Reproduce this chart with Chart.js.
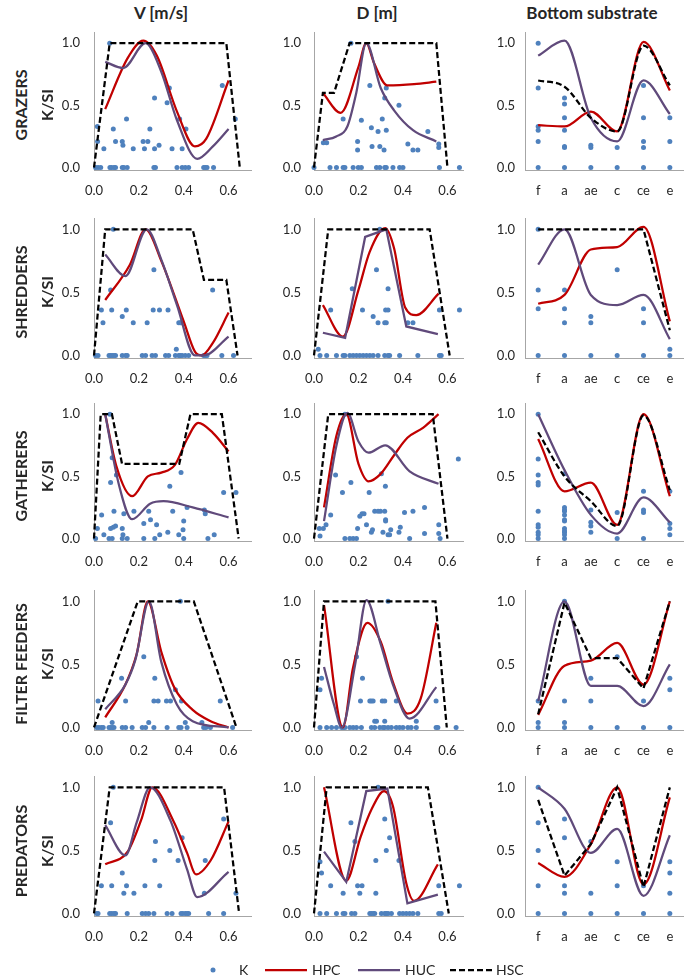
<!DOCTYPE html>
<html lang="en">
<head>
<meta charset="utf-8">
<title>K/SI habitat curves</title>
<script src="https://cdn.jsdelivr.net/npm/chart.js@4.4.1/dist/chart.umd.min.js"></script>
<style>
    html, body { margin: 0; padding: 0; background: #fff; }
    #page { position: relative; width: 685px; height: 978px; overflow: hidden; font-family: Lato, 'Open Sans', sans-serif; color: #262626; }
    #page canvas { position: absolute; }
    .colTitle { position: absolute; top: 2px; font-size: 17px; font-weight: bold; white-space: nowrap; transform: translateX(-50%); }
    .rowTitle { position: absolute; font-size: 16px; font-weight: bold; white-space: nowrap; transform: translate(-50%, -50%) rotate(-90deg); }
    .legendText { position: absolute; font-size: 14px; line-height: 16px; top: 962px; }
    #legendMarks { position: absolute; left: 0; top: 0; }
</style>
</head>
<body>
<div id="page"></div>
<script>
// labels
const columns = ['V [m/s]', 'D [m]', 'Bottom substrate'];
const groups = ['GRAZERS', 'SHREDDERS', 'GATHERERS', 'FILTER FEEDERS', 'PREDATORS'];
const substrate = ['f', 'a', 'ae', 'c', 'ce', 'e'];
const series = ['K', 'HPC', 'HUC', 'HSC'];
const yLabel = 'K/SI';
const xTicks = [0, 0.2, 0.4, 0.6];
const yTicks = [0, 0.5, 1.0];

//---------------- GRAZERS ----------------
const grazersV_K = [[0.07,1.0],[0.015,0.33],[0.016,0.21],[0.044,0.15],[0.086,0.31],[0.096,0.21],[0.126,0.21],[0.129,0.18],[0.145,0.39],[0.175,0.15],[0.219,0.21],[0.24,0.21],[0.225,0.15],[0.249,0.31],[0.27,0.56],[0.27,0.15],[0.29,0.18],[0.326,0.52],[0.336,0.64],[0.348,0.15],[0.382,0.39],[0.393,0.15],[0.41,0.31],[0.572,0.66],[0.63,0.39],
    [0.007,0],[0.018,0],[0.03,0],[0.071,0],[0.078,0],[0.089,0],[0.096,0],[0.126,0],[0.133,0],[0.148,0],[0.267,0],[0.274,0],[0.37,0],[0.393,0],[0.407,0],[0.422,0],[0.489,0],[0.496,0],[0.504,0],[0.533,0]];
const grazersV_HPC = [[0.05,0.47],[0.15,0.88],[0.22,1.02],[0.28,0.9],[0.37,0.45],[0.45,0.17],[0.5,0.23],[0.6,0.7]];
const grazersV_HUC = [[0.05,0.85],[0.13,0.8],[0.23,1.0],[0.3,0.77],[0.37,0.38],[0.46,0.07],[0.53,0.17],[0.6,0.31]];
const grazersV_HSC = [[0,0],[0.07,1],[0.59,1],[0.65,0]];

const grazersD_K = [[0.166,1.0],[0.042,0.2],[0.057,0.2],[0.131,0.39],[0.196,0.21],[0.196,0.14],[0.213,0.38],[0.251,0.66],[0.258,0.32],[0.261,0.17],[0.288,0.29],[0.296,0.17],[0.307,0.39],[0.315,0.14],[0.318,0.56],[0.325,0.64],[0.325,0.3],[0.382,0.5],[0.422,0.19],[0.445,0.14],[0.467,0.14],[0.512,0.29],[0.561,0.19],[0.561,0.16],
    [0,0],[0.072,0],[0.101,0],[0.131,0],[0.139,0],[0.176,0],[0.199,0],[0.213,0],[0.281,0],[0.296,0],[0.318,0],[0.325,0],[0.355,0],[0.385,0],[0.4,0],[0.564,0],[0.654,0]];
const grazersD_HPC = [[0.04,0.6],[0.12,0.44],[0.2,0.81],[0.235,1.0],[0.27,0.84],[0.33,0.66],[0.45,0.67],[0.55,0.69]];
const grazersD_HUC = [[0.04,0.22],[0.1,0.25],[0.15,0.33],[0.19,0.6],[0.235,1.0],[0.3,0.64],[0.36,0.46],[0.445,0.3],[0.55,0.21]];
const grazersD_HSC = [[0,0],[0.04,0.6],[0.09,0.6],[0.16,1],[0.55,1],[0.6,0]];

const grazersS_K = [['f',1.0],['f',0.64],['f',0.33],['f',0.3],['f',0.21],['f',0],['a',0.56],['a',0.51],['a',0.4],['a',0.3],['a',0.17],['a',0.16],['a',0],['ae',0.18],['ae',0.16],['ae',0],['c',0.16],['c',0],['ce',0.66],['ce',0.4],['ce',0.21],['ce',0.16],['ce',0],['e',0.4],['e',0.21],['e',0]];
const grazersS_HPC = [0.34, 0.33, 0.45, 0.29, 1.01, 0.62];
const grazersS_HUC = [0.9, 1.02, 0.4, 0.21, 0.7, 0.43];
const grazersS_HSC = [0.7, 0.65, 0.4, 0.29, 0.98, 0.66];

//---------------- SHREDDERS ----------------
const shreddersV_K = [[0.086,1.0],[0.033,0.36],[0.04,0.26],[0.074,0.52],[0.079,0.36],[0.126,0.31],[0.144,0.36],[0.175,0.26],[0.237,0.26],[0.267,0.68],[0.264,0.36],[0.292,0.36],[0.33,0.36],[0.367,0.05],[0.378,0.26],[0.385,0.26],[0.39,0.26],[0.529,0.52],
    [0.007,0],[0.018,0],[0.067,0],[0.074,0],[0.081,0],[0.089,0],[0.096,0],[0.126,0],[0.141,0],[0.148,0],[0.215,0],[0.23,0],[0.259,0],[0.274,0],[0.319,0],[0.333,0],[0.363,0],[0.378,0],[0.385,0],[0.393,0],[0.407,0],[0.422,0],[0.489,0],[0.496,0],[0.504,0],[0.57,0],[0.622,0]];
const shreddersV_HPC = [[0.05,0.44],[0.16,0.72],[0.23,1.0],[0.3,0.75],[0.4,0.27],[0.45,0.03],[0.48,0.0],[0.53,0.1],[0.6,0.34]];
const shreddersV_HUC = [[0.05,0.8],[0.14,0.63],[0.235,1.0],[0.3,0.76],[0.37,0.4],[0.45,0.0],[0.49,0.0],[0.6,0.15]];
const shreddersV_HSC = [[0,0],[0.05,1],[0.44,1],[0.49,0.6],[0.59,0.6],[0.64,0]];

const shreddersD_K = [[0.019,0.05],[0.075,0.36],[0.172,0.53],[0.218,0.36],[0.266,0.31],[0.281,0.68],[0.288,0.26],[0.296,1.0],[0.318,0.26],[0.325,0.26],[0.322,0.36],[0.333,0.36],[0.333,0.53],[0.422,0.26],[0.445,0.26],[0.564,0.36],[0.654,0.36],
    [0.027,0],[0.057,0],[0.101,0],[0.131,0],[0.139,0],[0.161,0],[0.176,0],[0.191,0],[0.206,0],[0.221,0],[0.236,0],[0.251,0],[0.266,0],[0.288,0],[0.318,0],[0.333,0],[0.34,0],[0.385,0],[0.467,0],[0.564,0],[0.572,0]];
const shreddersD_HPC = [[0.04,0.4],[0.13,0.15],[0.2,0.52],[0.25,0.82],[0.32,1.01],[0.36,0.85],[0.41,0.38],[0.46,0.32],[0.56,0.49]];
const shreddersD_HUC = [[0.04,0.18],[0.14,0.14],[0.23,0.94],[0.325,1.0],[0.415,0.23],[0.557,0.17]];
const shreddersD_HSC = [[0,0],[0.064,1],[0.52,1],[0.61,0]];

const shreddersS_K = [['f',1.0],['f',0.52],['f',0.37],['f',0],['a',0.52],['a',0.37],['a',0.26],['a',0],['ae',0.31],['ae',0.26],['ae',0],['c',0.68],['c',0],['ce',0.37],['ce',0.26],['ce',0],['e',0.05],['e',0]];
const shreddersS_HPC = [0.41, 0.48, 0.84, 0.86, 1.02, 0.27];
const shreddersS_HUC = [0.72, 1.0, 0.48, 0.4, 0.48, 0.13];
const shreddersS_HSC = [1, 1, 1, 1, 1, 0.2];

//---------------- GATHERERS ----------------
const gatherersV_K = [[0.071,1.0],[0.081,0.65],[0.074,0.45],[0.1,0.51],[0.034,0.19],[0.015,0.08],[0.044,0.03],[0.074,0.08],[0.086,0.09],[0.096,0.1],[0.089,0.22],[0.126,0.08],[0.133,0.2],[0.129,0.03],[0.178,0.22],[0.222,0.12],[0.244,0.22],[0.252,0.15],[0.279,0.11],[0.293,0.03],[0.329,0.05],[0.338,0.42],[0.351,0.22],[0.378,0.03],[0.388,0.53],[0.397,0.07],[0.4,0.14],[0.415,0.25],[0.492,0.23],[0.496,0.2],[0.536,0.03],[0.578,0.37],[0.633,0.37],
    [0.007,0],[0.067,0],[0.081,0],[0.126,0],[0.148,0],[0.222,0],[0.271,0],[0.4,0],[0.508,0]];
const gatherersV_HPC = [[0.05,1.0],[0.1,0.58],[0.17,0.34],[0.24,0.5],[0.3,0.53],[0.36,0.59],[0.415,0.8],[0.465,0.93],[0.53,0.85],[0.6,0.7]];
const gatherersV_HUC = [[0.05,1.0],[0.11,0.44],[0.17,0.155],[0.25,0.28],[0.31,0.3],[0.44,0.25],[0.6,0.17]];
const gatherersV_HSC = [[0,0],[0.03,1],[0.08,1],[0.125,0.6],[0.38,0.6],[0.43,1],[0.57,1],[0.645,0]];

const gatherersD_K = [[0.139,1.0],[0.097,0.51],[0.128,0.37],[0.166,0.45],[0.248,0.37],[0.303,0.52],[0.321,0.42],[0.649,0.64],[0.024,0.08],[0.042,0.08],[0.027,0.02],[0.054,0.11],[0.075,0.19],[0.196,0.08],[0.206,0.18],[0.216,0.2],[0.225,0.2],[0.236,0.11],[0.258,0.05],[0.263,0.07],[0.273,0.22],[0.288,0.22],[0.299,0.22],[0.31,0.05],[0.318,0.22],[0.322,0.15],[0.322,0.14],[0.333,0.03],[0.34,0.03],[0.345,0.07],[0.382,0.05],[0.388,0.09],[0.407,0.21],[0.445,0.22],[0.497,0.25],[0.497,0.04],[0.561,0.11],[0.561,0.04],
    [0.139,0],[0.161,0],[0.176,0],[0.191,0],[0.43,0],[0.567,0]];
const gatherersD_HPC = [[0.045,0.25],[0.1,0.82],[0.145,1.0],[0.2,0.6],[0.245,0.46],[0.3,0.52],[0.36,0.67],[0.42,0.81],[0.49,0.89],[0.56,1.0]];
const gatherersD_HUC = [[0.045,0.14],[0.1,0.74],[0.15,1.01],[0.2,0.78],[0.245,0.69],[0.32,0.75],[0.43,0.54],[0.56,0.44]];
const gatherersD_HSC = [[0,0],[0.064,1],[0.534,1],[0.6,0]];

const gatherersS_K = [['f',1.0],['f',0.64],['f',0.51],['f',0.45],['f',0.43],['f',0.22],['f',0.11],['f',0.09],['f',0.05],['f',0.03],['f',0],
    ['a',0.52],['a',0.25],['a',0.23],['a',0.22],['a',0.19],['a',0.15],['a',0.14],['a',0.08],['a',0.06],['a',0.05],['a',0.03],['a',0],
    ['ae',0.23],['ae',0.13],['ae',0.1],['ae',0.05],['c',0.21],['c',0],['ce',0.38],['ce',0.23],['ce',0.21],['ce',0],['e',0.38],['e',0.12],['e',0.08],['e',0.03]];
const gatherersS_HPC = [0.8, 0.38, 0.45, 0.11, 1.0, 0.34];
const gatherersS_HUC = [1.0, 0.55, 0.19, 0.04, 0.33, 0.13];
const gatherersS_HSC = [0.855, 0.5, 0.3, 0.1, 0.99, 0.39];

//---------------- FILTER FEEDERS ----------------
const filterV_K = [[0.385,1.0],[0.222,0.56],[0.271,0.39],[0.123,0.39],[0.018,0.21],[0.141,0.21],[0.363,0.3],[0.267,0.21],[0.286,0.21],[0.323,0.21],[0.341,0.21],[0.39,0.21],[0.563,0.21],[0.081,0.04],[0.244,0.04],[0.407,0.04],[0.481,0.04],
    [0.012,0],[0.022,0],[0.033,0],[0.041,0],[0.067,0],[0.074,0],[0.081,0],[0.089,0],[0.126,0],[0.141,0],[0.17,0],[0.215,0],[0.23,0],[0.267,0],[0.326,0],[0.378,0],[0.388,0],[0.415,0],[0.489,0],[0.499,0],[0.519,0],[0.618,0]];
const filterV_HPC = [[0.05,0.08],[0.14,0.34],[0.19,0.58],[0.24,1.0],[0.3,0.6],[0.36,0.31],[0.44,0.14],[0.52,0.05],[0.6,0.0]];
const filterV_HUC = [[0.05,0.145],[0.14,0.34],[0.185,0.54],[0.245,1.0],[0.3,0.52],[0.37,0.18],[0.44,0.05],[0.6,0.0]];
const filterV_HSC = [[0,0],[0.195,1],[0.445,1],[0.635,0]];

const filterD_K = [[0.333,1.0],[0.191,0.56],[0.218,0.39],[0.034,0.39],[0.027,0.3],[0.209,0.21],[0.251,0.21],[0.258,0.21],[0.266,0.21],[0.307,0.21],[0.318,0.21],[0.37,0.21],[0.549,0.21],[0.273,0.05],[0.281,0.05],[0.318,0.05],[0.46,0.05],
    [0.027,0],[0.057,0],[0.079,0],[0.101,0],[0.124,0],[0.131,0],[0.139,0],[0.161,0],[0.176,0],[0.191,0],[0.213,0],[0.258,0],[0.273,0],[0.296,0],[0.31,0],[0.318,0],[0.333,0],[0.348,0],[0.37,0],[0.385,0],[0.4,0],[0.422,0],[0.437,0],[0.46,0],[0.549,0],[0.557,0],[0.639,0]];
const filterD_HPC = [[0.045,0.97],[0.13,0.0],[0.175,0.47],[0.24,0.83],[0.3,0.68],[0.355,0.36],[0.42,0.11],[0.48,0.23],[0.55,0.83]];
const filterD_HUC = [[0.045,0.48],[0.09,0.18],[0.125,0.0],[0.185,0.5],[0.236,1.01],[0.3,0.66],[0.355,0.34],[0.43,0.07],[0.55,0.32]];
const filterD_HSC = [[0,0],[0.045,1],[0.546,1],[0.597,0]];

const filterS_K = [['f',0.21],['f',0.04],['f',0],['a',1.0],['a',0.21],['a',0.04],['a',0],['ae',0.39],['ae',0.21],['ae',0],['c',0.56],['c',0],['ce',0.21],['ce',0],['e',0.39],['e',0.3],['e',0]];
const filterS_HPC = [0.1, 0.49, 0.53, 0.67, 0.34, 1.0];
const filterS_HUC = [0.21, 1.0, 0.33, 0.33, 0.17, 0.5];
const filterS_HSC = [0.105, 0.99, 0.55, 0.55, 0.31, 1.0];

//---------------- PREDATORS ----------------
const predatorsV_K = [[0.086,1.0],[0.074,0.72],[0.033,0.22],[0.079,0.22],[0.126,0.32],[0.133,0.16],[0.145,0.22],[0.178,0.16],[0.227,0.22],[0.274,0.57],[0.271,0.42],[0.293,0.22],[0.338,0.5],[0.375,0.42],[0.393,0.6],[0.496,0.42],[0.492,0.16],[0.578,0.75],[0.633,0.16],
    [0.012,0],[0.018,0],[0.07,0],[0.079,0],[0.089,0],[0.096,0],[0.148,0],[0.215,0],[0.23,0],[0.244,0],[0.267,0],[0.326,0],[0.348,0],[0.388,0],[0.396,0],[0.407,0],[0.415,0],[0.422,0],[0.511,0],[0.578,0]];
const predatorsV_HPC = [[0.05,0.39],[0.15,0.49],[0.21,0.74],[0.26,1.0],[0.355,0.73],[0.415,0.48],[0.455,0.31],[0.52,0.42],[0.6,0.73]];
const predatorsV_HUC = [[0.05,0.7],[0.14,0.46],[0.19,0.72],[0.25,1.0],[0.34,0.74],[0.415,0.35],[0.46,0.13],[0.6,0.33]];
const predatorsV_HSC = [[0,0],[0.07,1],[0.58,1],[0.647,0]];

const predatorsD_K = [[0.288,1.0],[0.027,0.41],[0.034,0.32],[0.075,0.22],[0.166,0.72],[0.184,0.57],[0.131,0.16],[0.196,0.22],[0.216,0.22],[0.206,0.16],[0.278,0.42],[0.278,0.16],[0.318,0.75],[0.325,0.5],[0.34,0.6],[0.382,0.42],[0.561,0.22],[0.654,0.22],
    [0.027,0],[0.057,0],[0.101,0],[0.131,0],[0.139,0],[0.169,0],[0.184,0],[0.251,0],[0.258,0],[0.266,0],[0.273,0],[0.303,0],[0.318,0],[0.325,0],[0.333,0],[0.348,0],[0.385,0],[0.4,0],[0.415,0],[0.43,0],[0.445,0],[0.467,0],[0.561,0],[0.572,0]];
const predatorsD_HPC = [[0.045,1.0],[0.145,0.26],[0.21,0.61],[0.26,0.83],[0.315,0.97],[0.355,0.85],[0.415,0.24],[0.45,0.1],[0.557,0.39]];
const predatorsD_HUC = [[0.045,0.49],[0.145,0.25],[0.235,0.97],[0.33,0.99],[0.42,0.08],[0.557,0.15]];
const predatorsD_HSC = [[0,0],[0.057,1],[0.512,1],[0.606,0]];

const predatorsS_K = [['f',1.0],['f',0.72],['f',0.5],['f',0.22],['f',0],['a',0.75],['a',0.6],['a',0.22],['a',0.16],['a',0],['ae',0.57],['ae',0.16],['ae',0],['c',0.41],['c',0.22],['c',0],['ce',0.22],['ce',0],['e',0.41],['e',0.32],['e',0.16],['e',0]];
const predatorsS_HPC = [0.4, 0.29, 0.55, 1.0, 0.23, 0.92];
const predatorsS_HUC = [1.0, 0.83, 0.48, 0.67, 0.14, 0.62];
const predatorsS_HSC = [0.9, 0.3, 0.55, 1.0, 0.21, 1.0];

// which panel uses which arrays (row, col)
let panels = [
    {row:0, col:0, k:grazersV_K, hpc:grazersV_HPC, huc:grazersV_HUC, hsc:grazersV_HSC},
    {row:0, col:1, k:grazersD_K, hpc:grazersD_HPC, huc:grazersD_HUC, hsc:grazersD_HSC},
    {row:0, col:2, k:grazersS_K, hpc:grazersS_HPC, huc:grazersS_HUC, hsc:grazersS_HSC, hscSmooth:true},
    {row:1, col:0, k:shreddersV_K, hpc:shreddersV_HPC, huc:shreddersV_HUC, hsc:shreddersV_HSC},
    {row:1, col:1, k:shreddersD_K, hpc:shreddersD_HPC, huc:shreddersD_HUC, hsc:shreddersD_HSC, hucStraight:true},
    {row:1, col:2, k:shreddersS_K, hpc:shreddersS_HPC, huc:shreddersS_HUC, hsc:shreddersS_HSC},
    {row:2, col:0, k:gatherersV_K, hpc:gatherersV_HPC, huc:gatherersV_HUC, hsc:gatherersV_HSC},
    {row:2, col:1, k:gatherersD_K, hpc:gatherersD_HPC, huc:gatherersD_HUC, hsc:gatherersD_HSC},
    {row:2, col:2, k:gatherersS_K, hpc:gatherersS_HPC, huc:gatherersS_HUC, hsc:gatherersS_HSC, hscSmooth:true},
    {row:3, col:0, k:filterV_K, hpc:filterV_HPC, huc:filterV_HUC, hsc:filterV_HSC},
    {row:3, col:1, k:filterD_K, hpc:filterD_HPC, huc:filterD_HUC, hsc:filterD_HSC},
    {row:3, col:2, k:filterS_K, hpc:filterS_HPC, huc:filterS_HUC, hsc:filterS_HSC},
    {row:4, col:0, k:predatorsV_K, hpc:predatorsV_HPC, huc:predatorsV_HUC, hsc:predatorsV_HSC},
    {row:4, col:1, k:predatorsD_K, hpc:predatorsD_HPC, huc:predatorsD_HUC, hsc:predatorsD_HSC, hucStraight:true},
    {row:4, col:2, k:predatorsS_K, hpc:predatorsS_HPC, huc:predatorsS_HUC, hsc:predatorsS_HSC}
];

//colours and fonts
const BLUE = '#4F81BD', RED = '#C00000', PURPLE = '#604A7B', BLACK = '#000000';
const AXIS = '#A6A6A6', TEXT = '#262626';
const FONT = "Lato, 'Open Sans', sans-serif";

// panel geometry (pixels in the 685x978 page)
const colAxisX = [94, 314, 525];
const colPlotW = [157, 149, 158];
const colXMax = [0.7, 0.67, null];
const colLabelPad = [14, 13, 10];
const rowY1 = [43, 229, 414, 601, 787.5];   // where K/SI = 1.0
const rowY0 = [167.7, 355, 538, 727, 914];  // where K/SI = 0.0
const Y_MIN = -0.02, Y_MAX = 1.09;
const yW = 50, xH = 34, padT = 4, padR = 6;

let page = document.getElementById('page');

function toXY(pairs) {
    return pairs.map(p => ({x: p[0], y: p[1]}));
}

function lineSet(label, data, color, dash, smooth, order) {
    return {
        label: label,
        data: data,
        borderColor: color,
        backgroundColor: color,
        borderWidth: 2.25,
        borderDash: dash,
        pointRadius: 0,
        fill: false,
        tension: smooth ? 0.4 : 0,
        cubicInterpolationMode: smooth ? 'monotone' : 'default',
        order: order,
        clip: false
    };
}

function buildPanel(p) {
    let unit = rowY0[p.row] - rowY1[p.row];
    let plotTop = rowY1[p.row] - (Y_MAX - 1) * unit;
    let plotH = Math.round((Y_MAX - Y_MIN) * unit);
    let plotW = colPlotW[p.col];
    let isCat = p.col === 2;

    let cv = document.createElement('canvas');
    cv.width = yW + plotW + padR;
    cv.height = padT + plotH + xH;
    page.appendChild(cv);

    let line = d => isCat ? d : toXY(d);
    let datasets = [
        lineSet('HSC', line(p.hsc), BLACK, [6, 3], !!p.hscSmooth, 0),
        lineSet('HUC', line(p.huc), PURPLE, [], !p.hucStraight, 1),
        lineSet('HPC', line(p.hpc), RED, [], true, 2),
        {
            label: 'K', data: toXY(p.k), showLine: false,
            pointRadius: 2.5, pointBackgroundColor: BLUE, pointBorderColor: BLUE, pointBorderWidth: 0,
            order: 3, clip: false
        }
    ];

    let tickFont = {family: FONT, size: 13};
    let xScale;
    if (isCat) {
        xScale = {
            type: 'category', labels: substrate, offset: true,
            grid: {display: false, drawTicks: false},
            border: {color: AXIS, width: 1},
            ticks: {padding: 13, font: tickFont, color: TEXT, maxRotation: 0, autoSkip: false}
        };
    } else {
        xScale = {
            type: 'linear', min: 0, max: colXMax[p.col],
            grid: {display: false, drawTicks: false},
            border: {color: AXIS, width: 1},
            ticks: {padding: 13, font: tickFont, color: TEXT, maxRotation: 0, autoSkip: false,
                callback: v => v.toFixed(1)},
            afterBuildTicks: s => { s.ticks = xTicks.map(v => ({value: v})); }
        };
    }
    xScale.afterFit = s => { s.height = xH; s.paddingLeft = 0; s.paddingRight = 0; };

    let chart = new Chart(cv, {
        type: 'line',
        data: {labels: isCat ? substrate : undefined, datasets: datasets},
        options: {
            responsive: false,
            animation: false,
            events: [],
            layout: {padding: {top: padT, right: padR, left: 0, bottom: 0}},
            plugins: {legend: {display: false}, tooltip: {enabled: false}},
            scales: {
                x: xScale,
                y: {
                    type: 'linear', min: Y_MIN, max: Y_MAX,
                    grid: {display: false, drawTicks: false},
                    border: {color: AXIS, width: 1},
                    ticks: {padding: colLabelPad[p.col], font: tickFont, color: TEXT, callback: v => v.toFixed(1)},
                    afterBuildTicks: s => { s.ticks = yTicks.map(v => ({value: v})); },
                    afterFit: s => { s.width = yW; s.paddingTop = 0; s.paddingBottom = 0; }
                }
            }
        }
    });

    // line the plot area up with the reference
    let a = chart.chartArea;
    cv.style.left = Math.round(colAxisX[p.col] - a.left) + 'px';
    cv.style.top = Math.round(plotTop - a.top) + 'px';
}

panels.forEach(buildPanel);

// column titles
const colTitleX = [161, 377, 592];
columns.forEach((t, i) => {
    let d = document.createElement('div');
    d.className = 'colTitle';
    d.style.left = colTitleX[i] + 'px';
    d.textContent = t;
    page.appendChild(d);
});

// row titles + K/SI
groups.forEach((g, i) => {
    let cy = (rowY1[i] + rowY0[i]) / 2;
    let d = document.createElement('div');
    d.className = 'rowTitle';
    d.style.left = '20px';
    d.style.top = cy + 'px';
    d.textContent = g;
    page.appendChild(d);

    let k = document.createElement('div');
    k.className = 'rowTitle';
    k.style.left = '46px';
    k.style.top = cy + 'px';
    k.textContent = yLabel;
    page.appendChild(k);
});

// legend
let ly = 970;
let svg = '<svg id="legendMarks" width="685" height="978">' +
    '<circle cx="213" cy="' + ly + '" r="2.5" fill="' + BLUE + '"/>' +
    '<line x1="265" x2="307" y1="' + ly + '" y2="' + ly + '" stroke="' + RED + '" stroke-width="2.25"/>' +
    '<line x1="358" x2="400" y1="' + ly + '" y2="' + ly + '" stroke="' + PURPLE + '" stroke-width="2.25"/>' +
    '<line x1="450" x2="493" y1="' + ly + '" y2="' + ly + '" stroke="' + BLACK + '" stroke-width="2.25" stroke-dasharray="6 3"/>' +
    '</svg>';
page.insertAdjacentHTML('beforeend', svg);
const legendTextX = [239, 312, 405, 496];
series.forEach((s, i) => {
    let t = document.createElement('div');
    t.className = 'legendText';
    t.style.left = legendTextX[i] + 'px';
    t.textContent = s;
    page.appendChild(t);
});
</script>
</body>
</html>
